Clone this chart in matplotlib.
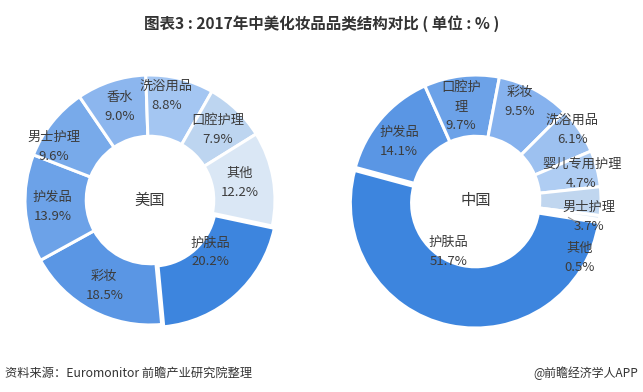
import numpy as np
from matplotlib import pyplot as plt

plt.rcParams['font.family'] = ['Noto Sans CJK SC', 'DejaVu Sans']

# 美国 data, clockwise from 护肤品
us_names = ['护肤品', '彩妆', '护发品', '男士护理', '香水', '洗浴用品', '口腔护理', '其他']
us_values = [20.2, 18.5, 13.9, 9.6, 9.0, 8.8, 7.9, 12.2]
us_colors = ['#3d85de', '#5a96e4', '#6ca2e8', '#78aaea', '#8cb6ee', '#a4c6f2', '#bdd5f0', '#dae7f5']

# 中国 data, clockwise from 护肤品
cn_names = ['护肤品', '护发品', '口腔护\n理', '彩妆', '洗浴用品', '婴儿专用护理', '男士护理', '其他']
cn_values = [51.7, 14.1, 9.7, 9.5, 6.1, 4.7, 3.7, 0.5]
cn_colors = ['#3d85de', '#5a96e4', '#6ca2e8', '#86b2ee', '#9dc1f0', '#afcdf3', '#c0d6ef', '#dae7f5']

TXT = '#3c3c3c'
W, H = 643, 392
PX = 125.0  # pixels per unit radius


def donut(center, names, values, colors, start, title, label_pos):
    cx, cy = center
    half = 1.06 * PX
    ax = fig.add_axes([(cx - half) / W, (H - cy - half) / H, 2 * half / W, 2 * half / H])
    explode = [0.025] + [0] * (len(values) - 1)
    ax.pie(values, colors=colors, startangle=start, counterclock=False,
           explode=explode, radius=1.0,
           wedgeprops=dict(width=0.49, edgecolor='white', linewidth=2.2))
    ax.set_xlim(-1.06, 1.06)
    ax.set_ylim(-1.06, 1.06)
    ax.set_aspect('equal')
    ax.axis('off')
    ax.text(0, 0, title, ha='center', va='center', fontsize=11, color=TXT)

    total = sum(values)
    a = start
    for i, (n, v) in enumerate(zip(names, values)):
        span = v / total * 360
        mid = a - span / 2
        a -= span
        ang, r = label_pos.get(i, (mid, 0.78))
        x, y = r * np.cos(np.radians(ang)), r * np.sin(np.radians(ang))
        ax.text(x, y, f'{n}\n{v:.1f}%', ha='center', va='center',
                fontsize=9.5, color=TXT, linespacing=1.6)
    return ax


fig = plt.figure(figsize=(W / 100, H / 100), dpi=100)

fig.text(0.5, 1 - 24 / H, '图表3 : 2017年中美化妆品品类结构对比 ( 单位 : % )',
         ha='center', va='center', fontsize=11.2, fontweight='bold', color='#333333')

donut((150, 200), us_names, us_values, us_colors, -12, '美国',
      {0: (-41, 0.64), 3: (151, 0.88), 5: (81, 0.84), 7: (11, 0.73)})

ax2 = donut((476, 200), cn_names, cn_values, cn_colors, -9, '中国',
            {0: (-118, 0.47), 1: (143, 0.77), 2: (99, 0.76), 3: (66, 0.86),
             4: (36, 0.95), 5: (14, 0.87), 6: (-8.5, 0.91), 7: (-29, 0.95)})
ax2.plot([0.74, 0.83], [-0.14, -0.19], color='#999999', linewidth=0.8)

fig.text(5 / W, 1 - 373 / H, '资料来源：Euromonitor 前瞻产业研究院整理',
         ha='left', va='center', fontsize=8.8, color='#333333', style='italic')
fig.text(1 - 5 / W, 1 - 373 / H, '@前瞻经济学人APP',
         ha='right', va='center', fontsize=8.6, color='#333333')

fig.savefig('out.png', dpi=100)
